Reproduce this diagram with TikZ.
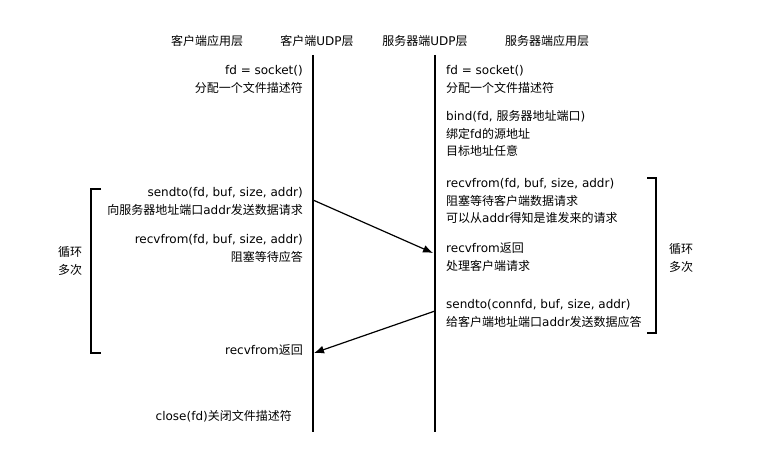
\documentclass[tikz,border=0pt]{standalone}
\usepackage{fontspec}
\setmainfont{Noto Sans CJK SC}
\newfontfamily\lat{DejaVu Sans}
\usetikzlibrary{arrows.meta}
\tikzset{
  head/.style={anchor=base,inner sep=0pt,font=\fontsize{12}{17.5}\selectfont},
  ltext/.style={anchor=base east,align=right,inner sep=0pt,font=\fontsize{12}{17.5}\selectfont},
  rtext/.style={anchor=base west,align=left,inner sep=0pt,font=\fontsize{12}{17.5}\selectfont},
  loop/.style={anchor=base,align=center,inner sep=0pt,font=\fontsize{12}{17.5}\selectfont},
  msg/.style={line width=1.2pt,-{Latex[length=10pt,width=8pt]}},
}
\begin{document}
\begin{tikzpicture}[x=1pt,y=-1pt]
\useasboundingbox (0,0) rectangle (758,473);
% headers
\node[head] (hca) at (207,46) {客户端应用层};
\node[head] (hcu) at (317,46) {客户端{\lat UDP}层};
\node[head] (hsu) at (425,46) {服务器端{\lat UDP}层};
\node[head] (hsa) at (547,46) {服务器端应用层};
% the two UDP lines
\coordinate (ctop) at (313,55);
\coordinate (cbot) at (313,432);
\coordinate (stop) at (435,55);
\coordinate (sbot) at (435,432);
\draw[line width=1.5pt] (ctop)--(cbot);
\draw[line width=1.5pt] (stop)--(sbot);
% client side (base = last line)
\node[ltext] (c1) at (303,92.5) {{\lat fd = socket()}\\分配一个文件描述符};
\node[ltext] (c2) at (303,214.5) {{\lat sendto(fd, buf, size, addr)}\\向服务器地址端口{\lat addr}发送数据请求};
\node[ltext] (c3) at (303,261.5) {{\lat recvfrom(fd, buf, size, addr)}\\阻塞等待应答};
\node[ltext] (c4) at (303,354) {{\lat recvfrom}返回};
\node[ltext] (c5) at (292,420) {{\lat close(fd)}关闭文件描述符};
% server side
\node[rtext] (s1) at (446,92.5) {{\lat fd = socket()}\\分配一个文件描述符};
\node[rtext] (s2) at (446,156) {{\lat bind(fd, }服务器地址端口{\lat )}\\绑定{\lat fd}的源地址\\目标地址任意};
\node[rtext] (s3) at (446,223) {{\lat recvfrom(fd, buf, size, addr)}\\阻塞等待客户端数据请求\\可以从{\lat addr}得知是谁发来的请求};
\node[rtext] (s4) at (446,270.5) {{\lat recvfrom}返回\\处理客户端请求};
\node[rtext] (s5) at (446,326.5) {{\lat sendto(connfd, buf, size, addr)}\\给客户端地址端口{\lat addr}发送数据应答};
% messages
\coordinate (m1a) at (313,200);
\coordinate (m1b) at (433,253);
\coordinate (m2a) at (435,311);
\coordinate (m2b) at (314,353);
\draw[msg] (m1a)--(m1b);
\draw[msg] (m2a)--(m2b);
% loops
\draw[line width=1.5pt] (101,189)--(91,189)--(91,353)--(101,353);
\node[loop] (lc) at (70,274.5) {循环\\多次};
\draw[line width=1.5pt] (647,178)--(656,178)--(656,333)--(647,333);
\node[loop] (rc) at (681,271.5) {循环\\多次};
\end{tikzpicture}
\end{document}
